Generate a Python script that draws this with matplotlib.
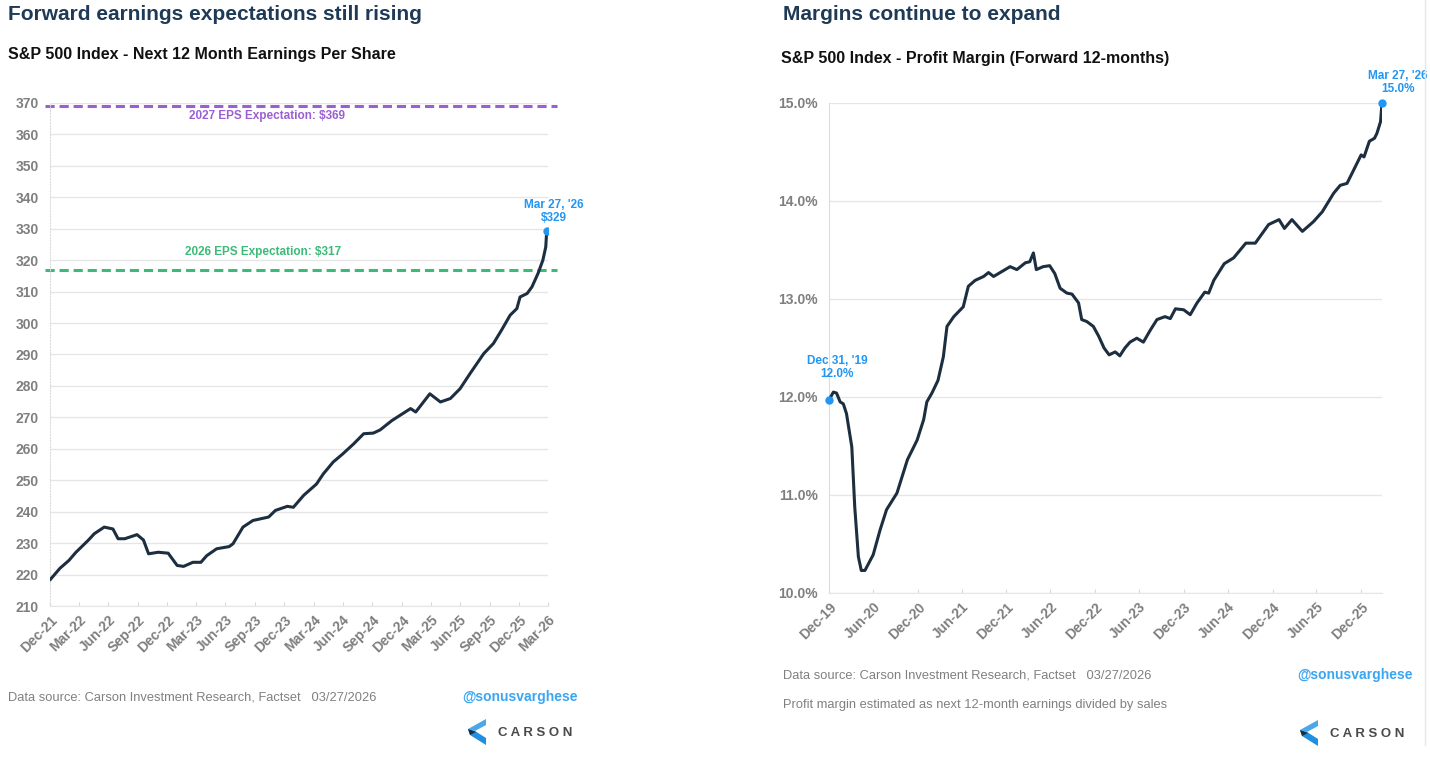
import matplotlib
matplotlib.use("Agg")
import matplotlib.pyplot as plt
import matplotlib.dates as mdates
from matplotlib.patches import Polygon
from matplotlib.lines import Line2D
import pandas as pd

plt.rcParams['font.family'] = ['Liberation Sans', 'DejaVu Sans']

# --- data: S&P 500 next 12 month EPS ---
eps_dates = ['2021-12-31', '2022-01-31', '2022-02-28', '2022-03-21', '2022-04-30', '2022-05-18',
             '2022-06-18', '2022-07-15', '2022-07-31', '2022-08-21', '2022-09-28', '2022-10-18',
             '2022-11-03', '2022-12-03', '2023-01-03', '2023-01-31', '2023-02-20', '2023-03-21',
             '2023-04-15', '2023-05-03', '2023-06-03', '2023-07-12', '2023-07-24', '2023-08-24',
             '2023-09-24', '2023-11-12', '2023-12-03', '2024-01-09', '2024-01-28', '2024-02-29',
             '2024-04-09', '2024-04-30', '2024-05-31', '2024-06-30', '2024-08-03', '2024-09-03',
             '2024-10-03', '2024-10-24', '2024-11-30', '2025-01-27', '2025-02-12', '2025-03-28',
             '2025-04-30', '2025-05-31', '2025-06-30', '2025-07-31', '2025-09-12', '2025-10-12',
             '2025-11-06', '2025-12-03', '2025-12-24', '2026-01-03', '2026-01-25', '2026-02-09',
             '2026-02-28', '2026-03-15', '2026-03-24', '2026-03-27']
eps_values = [218.3, 222.0, 224.5, 227.0, 231.0, 233.0,
              235.1, 234.5, 231.4, 231.4, 232.7, 231.0,
              226.6, 227.1, 226.8, 222.9, 222.6, 223.9,
              223.9, 226.0, 228.2, 228.9, 229.8, 235.1,
              237.2, 238.3, 240.4, 241.7, 241.4, 245.2,
              248.8, 252.0, 255.8, 258.4, 261.6, 264.8,
              265.0, 266.0, 269.0, 272.8, 271.7, 277.5,
              274.9, 276.0, 279.1, 283.9, 290.3, 293.5,
              297.7, 302.5, 304.6, 308.3, 309.4, 311.5,
              315.8, 320.0, 324.2, 329.3]
eps_2027 = 369
eps_2026 = 317
eps_ticks = pd.date_range('2021-12-31', '2026-03-31', freq='3ME')

# --- data: S&P 500 forward profit margin (%) ---
pm_dates = ['2019-12-31', '2020-01-18', '2020-01-31', '2020-02-15', '2020-02-28', '2020-03-12',
            '2020-04-03', '2020-04-15', '2020-04-30', '2020-05-12', '2020-05-27', '2020-06-30',
            '2020-07-28', '2020-08-24', '2020-10-06', '2020-11-18', '2020-12-28', '2021-01-24',
            '2021-02-06', '2021-02-27', '2021-03-24', '2021-04-15', '2021-04-30', '2021-05-28',
            '2021-07-06', '2021-07-27', '2021-08-24', '2021-09-28', '2021-10-18', '2021-11-08',
            '2021-12-12', '2022-01-15', '2022-02-12', '2022-03-19', '2022-04-06', '2022-04-21',
            '2022-05-03', '2022-05-31', '2022-06-27', '2022-07-18', '2022-08-09', '2022-09-06',
            '2022-09-27', '2022-10-24', '2022-11-06', '2022-11-27', '2022-12-24', '2023-01-15',
            '2023-02-06', '2023-02-27', '2023-03-24', '2023-04-12', '2023-05-03', '2023-05-24',
            '2023-06-21', '2023-07-18', '2023-08-15', '2023-09-12', '2023-10-15', '2023-11-06',
            '2023-11-27', '2023-12-31', '2024-01-27', '2024-02-24', '2024-03-27', '2024-04-12',
            '2024-05-03', '2024-06-15', '2024-07-24', '2024-09-12', '2024-10-21', '2024-12-15',
            '2025-01-27', '2025-02-18', '2025-03-21', '2025-05-03', '2025-06-18', '2025-07-24',
            '2025-09-09', '2025-10-06', '2025-11-03', '2025-12-03', '2025-12-31', '2026-01-12',
            '2026-02-03', '2026-02-24', '2026-03-06', '2026-03-21', '2026-03-27']
pm_values = [11.97, 12.05, 12.04, 11.95, 11.93, 11.83,
             11.49, 10.88, 10.37, 10.23, 10.23, 10.39,
             10.64, 10.85, 11.02, 11.36, 11.56, 11.77,
             11.95, 12.04, 12.17, 12.41, 12.72, 12.82,
             12.92, 13.13, 13.19, 13.23, 13.27, 13.23,
             13.28, 13.33, 13.30, 13.37, 13.38, 13.47,
             13.30, 13.33, 13.34, 13.26, 13.11, 13.06,
             13.05, 12.96, 12.79, 12.77, 12.72, 12.62,
             12.50, 12.43, 12.46, 12.42, 12.50, 12.56,
             12.60, 12.56, 12.68, 12.79, 12.82, 12.80,
             12.90, 12.89, 12.84, 12.96, 13.07, 13.06,
             13.19, 13.36, 13.42, 13.57, 13.57, 13.76,
             13.81, 13.72, 13.81, 13.69, 13.79, 13.89,
             14.08, 14.16, 14.18, 14.33, 14.47, 14.45,
             14.61, 14.64, 14.69, 14.81, 15.00]
pm_ticks = pd.date_range('2019-12-31', '2025-12-31', freq='6ME')

navy = '#1c2e40'
blue = '#2196f3'
grid_c = '#e6e6e6'
tick_c = '#7f7f7f'

fig = plt.figure(figsize=(14.3, 7.6), dpi=100)
fig.patch.set_facecolor('white')


def style_axes(ax):
    for s in ['top', 'right']:
        ax.spines[s].set_visible(False)
    ax.spines['bottom'].set_color(grid_c)
    ax.spines['left'].set_color('#dcdcdc')
    ax.grid(axis='y', color=grid_c, linewidth=1)
    ax.set_axisbelow(True)
    ax.tick_params(axis='y', length=0, labelsize=10, labelcolor=tick_c, pad=8)
    ax.tick_params(axis='x', direction='in', length=3, color='#d8d8d8',
                   labelsize=10, labelcolor=tick_c, pad=5)
    for lab in ax.get_yticklabels() + ax.get_xticklabels():
        lab.set_fontweight('bold')


# ---------------- left chart ----------------
ax1 = fig.add_axes([50 / 1430, 1 - 606 / 760, 498 / 1430, 503 / 760])
d1 = pd.to_datetime(eps_dates)
ax1.plot(d1, eps_values, color=navy, linewidth=2.2, solid_capstyle='round', zorder=3)
ax1.plot(d1[-1], eps_values[-1], 'o', color=blue, markersize=5, zorder=4)
ax1.axhline(eps_2027, xmin=-0.01, xmax=1.018, color='#9b5fd4', linewidth=2.2,
            linestyle=(0, (3, 1.6)), clip_on=False, zorder=2)
ax1.axhline(eps_2026, xmin=-0.01, xmax=1.018, color='#3cba78', linewidth=2.2,
            linestyle=(0, (3, 1.6)), clip_on=False, zorder=2)
ax1.text(0.436, 365.9, '2027 EPS Expectation: $%d' % eps_2027, transform=ax1.get_yaxis_transform(),
         ha='center', va='center', fontsize=8.5, fontweight='bold', color='#9b5fd4')
ax1.text(0.428, 322.5, '2026 EPS Expectation: $%d' % eps_2026, transform=ax1.get_yaxis_transform(),
         ha='center', va='center', fontsize=8.5, fontweight='bold', color='#3cba78')
ax1.annotate("Mar 27, '26\n$%d" % round(eps_values[-1]), (d1[-1], eps_values[-1]),
             xytext=(7, 7), textcoords='offset pixels', ha='center', va='bottom',
             fontsize=8.5, fontweight='bold', color=blue, linespacing=1.1)
ax1.set_ylim(210, 370)
ax1.set_yticks(range(210, 371, 10))
ax1.set_xlim(pd.Timestamp('2021-12-31'), pd.Timestamp('2026-03-31'))
ax1.set_xticks(eps_ticks)
ax1.xaxis.set_major_formatter(mdates.DateFormatter('%b-%y'))
style_axes(ax1)
ax1.spines['left'].set_linestyle(':')
plt.setp(ax1.get_xticklabels(), rotation=45, ha='right', rotation_mode='anchor')

# ---------------- right chart ----------------
ax2 = fig.add_axes([829 / 1430, 1 - 593 / 760, 553 / 1430, 490 / 760])
d2 = pd.to_datetime(pm_dates)
ax2.plot(d2, pm_values, color=navy, linewidth=2.2, solid_capstyle='round', zorder=3)
ax2.plot([d2[0], d2[-1]], [pm_values[0], pm_values[-1]], 'o', color=blue, markersize=5,
         zorder=4, clip_on=False)
ax2.annotate("Dec 31, '19\n%.1f%%" % 12.0, (d2[0], pm_values[0]),
             xytext=(8, 20), textcoords='offset pixels', ha='center', va='bottom',
             fontsize=8.5, fontweight='bold', color=blue, linespacing=1.1)
ax2.annotate("Mar 27, '26\n%.1f%%" % pm_values[-1], (d2[-1], pm_values[-1]),
             xytext=(16, 8), textcoords='offset pixels', ha='center', va='bottom',
             fontsize=8.5, fontweight='bold', color=blue, linespacing=1.1,
             annotation_clip=False)
ax2.set_ylim(10, 15)
ax2.set_yticks([10, 11, 12, 13, 14, 15])
ax2.set_yticklabels(['%.1f%%' % v for v in [10, 11, 12, 13, 14, 15]])
ax2.set_xlim(pd.Timestamp('2019-12-31'), pd.Timestamp('2026-03-27'))
ax2.set_xticks(pm_ticks)
ax2.xaxis.set_major_formatter(mdates.DateFormatter('%b-%y'))
style_axes(ax2)
plt.setp(ax2.get_xticklabels(), rotation=45, ha='right', rotation_mode='anchor')

# ---------------- titles and footers ----------------
def fx(px):
    return px / 1430


def fy(py):
    return 1 - py / 760


title_c = '#1f3a56'
fig.text(fx(8), fy(15), 'Forward earnings expectations still rising', fontsize=15,
         fontweight='bold', color=title_c, va='center')
fig.text(fx(8), fy(55), 'S&P 500 Index - Next 12 Month Earnings Per Share', fontsize=11.5,
         fontweight='bold', color='#111111', va='center')
fig.text(fx(783), fy(15), 'Margins continue to expand', fontsize=15,
         fontweight='bold', color=title_c, va='center')
fig.text(fx(781), fy(58), 'S&P 500 Index - Profit Margin (Forward 12-months)', fontsize=11.5,
         fontweight='bold', color='#111111', va='center')

foot_c = '#808080'
src = 'Data source: Carson Investment Research, Factset   03/27/2026'
fig.text(fx(8), fy(697), src, fontsize=9.3, color=foot_c, va='center')
fig.text(fx(783), fy(675), src, fontsize=9.3, color=foot_c, va='center')
fig.text(fx(783), fy(705), 'Profit margin estimated as next 12-month earnings divided by sales',
         fontsize=9.3, color=foot_c, va='center')
fig.text(fx(578), fy(697), '@sonusvarghese', fontsize=10, fontweight='bold',
         color='#3aa6f2', ha='right', va='center')
fig.text(fx(1413), fy(675), '@sonusvarghese', fontsize=10, fontweight='bold',
         color='#3aa6f2', ha='right', va='center')


def carson_logo(x0, y0):
    # chevron mark, x0/y0 = top left in pixels
    top = [(x0 + 18, y0), (x0 + 18, y0 + 6), (x0 + 7, y0 + 12), (x0, y0 + 10)]
    bot = [(x0, y0 + 10), (x0 + 7, y0 + 12), (x0 + 18, y0 + 19), (x0 + 18, y0 + 26), (x0 + 2, y0 + 16)]
    dark = [(x0, y0 + 10), (x0 + 8, y0 + 13), (x0 + 2, y0 + 16)]
    for pts, c in [(top, '#4aa8e8'), (bot, '#1f8fe0'), (dark, '#1c2e40')]:
        fig.patches.append(Polygon([(fx(a), fy(b)) for a, b in pts], closed=True,
                                   transform=fig.transFigure, facecolor=c, edgecolor='none'))
    fig.text(fx(x0 + 30), fy(y0 + 14), 'C A R S O N', fontsize=9.5, fontweight='bold',
             color='#4a4a4a', va='center')


carson_logo(468, 719)
carson_logo(1300, 720)

# faint panel border on the right
fig.add_artist(Line2D([fx(1425), fx(1425)], [fy(0), fy(745)], color='#e8e8e8',
                      linewidth=1, transform=fig.transFigure))

fig.savefig('out.png', dpi=100, facecolor='white')
